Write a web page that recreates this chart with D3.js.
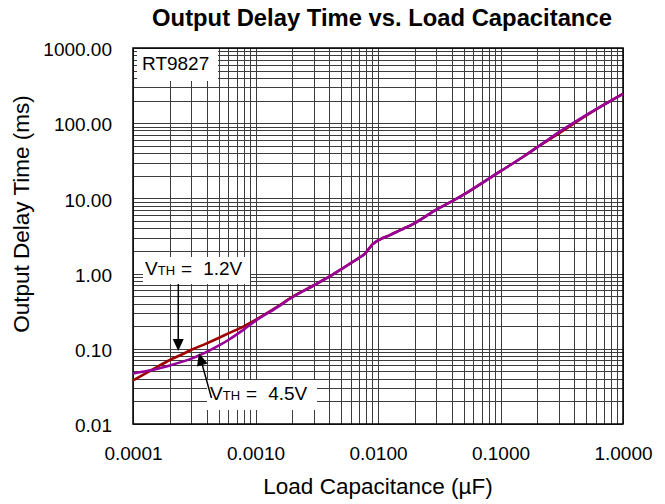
<!DOCTYPE html>
<html><head><meta charset="utf-8">
<script src="https://cdn.jsdelivr.net/npm/d3@7"></script>
<style>body{margin:0;background:#fff}svg{display:block}</style>
</head><body><svg id="c" width="665" height="504"></svg>
<script>
// ---- data ----
const capacitance = [0.0001,0.00015,0.0002,0.00025,0.0003,0.0004,0.0005,0.0006,0.0008,0.001,0.0015,0.002,0.003,0.004,0.005,0.006,0.007,0.0078,0.0084,0.009,0.0097,0.0105,0.0125,0.015,0.02,0.03,0.04,0.05,0.07,0.1,0.15,0.2,0.3,0.5,0.7,1.0];
const delayVth12 = [0.038,0.055,0.071,0.084,0.097,0.118,0.139,0.160,0.199,0.243,0.362,0.49,0.70,0.91,1.14,1.38,1.62,1.83,2.12,2.45,2.68,2.87,3.25,3.75,4.7,7.1,9.1,11.2,15.8,23,35,48,73,126,176,246];
const delayVth45 = [0.047,0.053,0.060,0.067,0.074,0.091,0.110,0.131,0.180,0.235,0.355,0.485,0.70,0.91,1.14,1.38,1.62,1.83,2.12,2.45,2.68,2.87,3.25,3.75,4.7,7.1,9.1,11.2,15.8,23,35,48,76,128,176,246];
const xTickValues = [0.0001,0.001,0.01,0.1,1];
const xTickLabels = ["0.0001","0.0010","0.0100","0.1000","1.0000"];
const yTickValues = [0.01,0.1,1,10,100,1000];
const yTickLabels = ["0.01","0.10","1.00","10.00","100.00","1000.00"];
const titleText = "Output Delay Time vs. Load Capacitance";
const xTitle = "Load Capacitance (\u00B5F)";
const yTitle = "Output Delay Time (ms)";

// ---- layout ----
const L = 133, R = 623, T = 48, B = 424;
const FONT = "'Liberation Sans', Arial, Helvetica, sans-serif";
const svg = d3.select("#c");
const x = d3.scaleLog().domain([0.0001, 1]).range([L, R]);
const y = d3.scaleLog().domain([0.01, 1000]).range([B, T]);

// minor grid values
const gx = [], gy = [];
for (let e = -4; e < 0; e++) for (let m = 1; m <= 9; m++) gx.push(m * Math.pow(10, e));
gx.push(1);
for (let e = -2; e < 3; e++) for (let m = 1; m <= 9; m++) gy.push(m * Math.pow(10, e));
gy.push(1000);

svg.append("rect").attr("width", 665).attr("height", 504).attr("fill", "#fff");

// grid via axes
const gridX = svg.append("g").attr("transform", `translate(0,${B})`)
  .call(d3.axisBottom(x).tickValues(gx).tickSize(-(B - T)).tickFormat(""));
const gridY = svg.append("g").attr("transform", `translate(${L},0)`)
  .call(d3.axisLeft(y).tickValues(gy).tickSize(-(R - L)).tickFormat(""));
[gridX, gridY].forEach(g => {
  g.select(".domain").remove();
  g.selectAll("line").attr("stroke", "#3c3c3c").attr("stroke-width", 1).attr("shape-rendering", "crispEdges");
});

// annotation boxes (white, covering grid)
svg.append("rect").attr("x", 137).attr("y", 49).attr("width", 81).attr("height", 32).attr("fill", "#fff");
svg.append("rect").attr("x", 143).attr("y", 257).attr("width", 107).attr("height", 27).attr("fill", "#fff");
svg.append("rect").attr("x", 207).attr("y", 380).attr("width", 110).attr("height", 30).attr("fill", "#fff");

// border
svg.append("rect").attr("x", L).attr("y", T).attr("width", R - L).attr("height", B - T)
  .attr("fill", "none").attr("stroke", "#000").attr("stroke-width", 1.5);

// tick label axes
const ax = svg.append("g").attr("transform", `translate(0,${B})`)
  .call(d3.axisBottom(x).tickValues(xTickValues).tickSize(0).tickPadding(22.5)
    .tickFormat((d, i) => xTickLabels[i]));
const ay = svg.append("g").attr("transform", `translate(${L},0)`)
  .call(d3.axisLeft(y).tickValues(yTickValues).tickSize(0).tickPadding(21)
    .tickFormat((d, i) => yTickLabels[i]));
[ax, ay].forEach(g => {
  g.select(".domain").remove();
  g.selectAll("text").attr("font-family", FONT).attr("font-size", 19).attr("fill", "#000");
});
ay.selectAll("text").attr("dy", "0.4em");

// titles
svg.append("text").attr("x", 382).attr("y", 26).attr("text-anchor", "middle")
  .attr("font-family", FONT).attr("font-weight", "bold").attr("font-size", 23.8).text(titleText);
svg.append("text").attr("x", 378).attr("y", 494).attr("text-anchor", "middle")
  .attr("font-family", FONT).attr("font-size", 22.5).text(xTitle);
svg.append("text").attr("transform", "translate(29,214) rotate(-90)").attr("text-anchor", "middle")
  .attr("font-family", FONT).attr("font-size", 22.5).text(yTitle);

// annotation texts
svg.append("text").attr("x", 142).attr("y", 70).attr("font-family", FONT).attr("font-size", 19).text("RT9827");
function vthLabel(x0, y0, val) {
  const t = svg.append("text").attr("x", x0).attr("y", y0).attr("font-family", FONT).attr("font-size", 19);
  t.append("tspan").text("V");
  t.append("tspan").attr("font-size", 13).text("TH");
  t.append("tspan").attr("dx", 6).text("=");
  t.append("tspan").attr("dx", 11).text(val);
}
vthLabel(145, 275, "1.2V");
vthLabel(210, 400, "4.5V");

// curves
const line = d3.line().x(d => x(d[0])).y(d => y(d[1])).curve(d3.curveMonotoneX);
const s12 = capacitance.map((c, i) => [c, delayVth12[i]]);
const s45 = capacitance.map((c, i) => [c, delayVth45[i]]);
svg.append("path").attr("d", line(s12)).attr("fill", "none").attr("stroke", "#a00000").attr("stroke-width", 2.6);
svg.append("path").attr("d", line(s45)).attr("fill", "none").attr("stroke", "#990099").attr("stroke-width", 2.6);

// arrows (tips anchored in data space)
function arrow(x1, y1, tipC, tipT) {
  const x2 = x(tipC), y2 = y(tipT);
  const ang = Math.atan2(y2 - y1, x2 - x1);
  const len = 12, hw = 5.5;
  const bx = x2 - len * Math.cos(ang), by = y2 - len * Math.sin(ang);
  svg.append("line").attr("x1", x1).attr("y1", y1).attr("x2", bx).attr("y2", by)
    .attr("stroke", "#000").attr("stroke-width", 1.5);
  const px = -Math.sin(ang) * hw, py = Math.cos(ang) * hw;
  svg.append("path").attr("d", `M${x2},${y2}L${bx + px},${by + py}L${bx - px},${by - py}Z`).attr("fill", "#000");
}
arrow(178.3, 284, 0.000234, 0.0935);
arrow(211.5, 398, 0.000346, 0.087);
</script></body></html>
